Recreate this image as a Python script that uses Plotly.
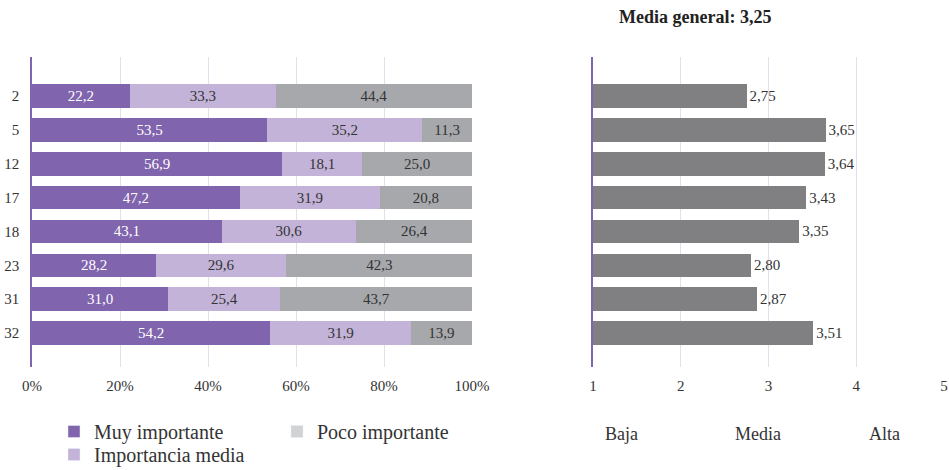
import plotly.graph_objects as go

# Categories (question numbers) and values
preguntas = ["2", "5", "12", "17", "18", "23", "31", "32"]
muy_importante = [22.2, 53.5, 56.9, 47.2, 43.1, 28.2, 31.0, 54.2]
importancia_media = [33.3, 35.2, 18.1, 31.9, 30.6, 29.6, 25.4, 31.9]
poco_importante = [44.4, 11.3, 25.0, 20.8, 26.4, 42.3, 43.7, 13.9]
medias = [2.75, 3.65, 3.64, 3.43, 3.35, 2.80, 2.87, 3.51]
media_general = 3.25

FONT = "Liberation Serif"
C_MUY = "#8064AD"
C_MEDIA = "#C3B3D8"
C_POCO = "#A7A8AB"
C_POCO_LEG = "#D1D2D4"
C_MEAN = "#808083"
GRID = "#E3DFEE"

W, H = 949, 470
MT, MB = 40, 80

def py(y):
    # pixel row -> paper fraction inside margins
    return 1 - (y - MT) / (H - MT - MB)

def fmt(v, d=1):
    return f"{v:.{d}f}".replace(".", ",")

fig = go.Figure()

series = [
    ("Muy importante", muy_importante, C_MUY, "white"),
    ("Importancia media", importancia_media, C_MEDIA, "#333333"),
    ("Poco importante", poco_importante, C_POCO, "#333333"),
]
for name, vals, col, tcol in series:
    fig.add_trace(go.Bar(
        y=preguntas, x=vals, orientation="h", name=name,
        marker=dict(color=col, line=dict(width=0)), width=0.7,
        text=[fmt(v) for v in vals], textposition="inside",
        insidetextanchor="middle",
        textfont=dict(family=FONT, size=15, color=tcol),
        showlegend=False, xaxis="x", yaxis="y", hoverinfo="skip",
    ))

# legend entries (lighter gray swatch for "Poco importante")
fig.add_trace(go.Bar(x=[None], y=[None], orientation="h", name="Muy importante",
                     marker_color=C_MUY, legend="legend", xaxis="x", yaxis="y"))
fig.add_trace(go.Bar(x=[None], y=[None], orientation="h", name="Poco importante",
                     marker_color=C_POCO_LEG, legend="legend", xaxis="x", yaxis="y"))
fig.add_trace(go.Bar(x=[None], y=[None], orientation="h", name="Importancia media",
                     marker_color=C_MEDIA, legend="legend2", xaxis="x", yaxis="y"))

fig.add_trace(go.Bar(
    y=preguntas, x=medias, orientation="h",
    marker=dict(color=C_MEAN, line=dict(width=0)), width=0.7,
    text=[fmt(v, 2) for v in medias], textposition="outside",
    textfont=dict(family=FONT, size=15, color="#333333"),
    cliponaxis=False, showlegend=False, xaxis="x2", yaxis="y2", hoverinfo="skip",
))

yr = [8.0, -1.15]

fig.update_layout(
    width=W, height=H,
    margin=dict(l=0, r=0, t=MT, b=MB, autoexpand=False),
    paper_bgcolor="white", plot_bgcolor="white",
    barmode="stack", bargap=0.3,
    font=dict(family=FONT, size=15, color="#333333"),
    uniformtext=dict(minsize=15, mode="show"),
    xaxis=dict(domain=[32 / W, 472 / W], range=[0, 100], tickvals=[0, 20, 40, 60, 80, 100],
               ticktext=["0%", "20%", "40%", "60%", "80%", "100%"],
               showgrid=True, gridcolor=GRID, gridwidth=1, zeroline=False,
               showline=False, ticks="", ticklabelstandoff=8, automargin=False,
               tickfont=dict(size=15, color="#333333")),
    yaxis=dict(domain=[py(367), py(57)], range=yr, type="category",
               showgrid=False, zeroline=False, showline=True, linecolor=C_MUY, linewidth=1.5,
               ticks="", ticklabelstandoff=8, automargin=False,
               tickfont=dict(size=15, color="#333333"), anchor="x"),
    xaxis2=dict(domain=[593 / W, 944 / W], range=[1, 5], tickvals=[1, 2, 3, 4, 5],
                showgrid=True, gridcolor=GRID, gridwidth=1, zeroline=False,
                showline=False, ticks="", ticklabelstandoff=8, automargin=False,
                anchor="y2", tickfont=dict(size=15, color="#333333")),
    yaxis2=dict(domain=[py(367), py(57)], range=yr, type="category",
                showgrid=False, zeroline=False, showline=True, linecolor=C_MUY, linewidth=1.5,
                showticklabels=False, ticks="", automargin=False, anchor="x2"),
    legend=dict(orientation="h", x=54 / W, y=py(412), xanchor="left", yanchor="top",
                entrywidth=178, itemwidth=30, traceorder="normal",
                font=dict(size=20, color="#333333"),
                bgcolor="rgba(0,0,0,0)", itemclick=False),
    legend2=dict(orientation="h", x=54 / W, y=py(435), xanchor="left", yanchor="top",
                 itemwidth=30, font=dict(size=20, color="#333333"),
                 bgcolor="rgba(0,0,0,0)", itemclick=False),
    annotations=[
        dict(text=f"<b>Media general: {fmt(media_general, 2)}</b>", x=773 / W, y=py(17),
             xref="paper", yref="paper", yanchor="middle", showarrow=False,
             font=dict(size=18, color="#222222")),
        dict(text="Baja", x=640 / W, y=py(434), xref="paper", yref="paper", yanchor="middle",
             showarrow=False, font=dict(size=18)),
        dict(text="Media", x=783 / W, y=py(434), xref="paper", yref="paper", yanchor="middle",
             showarrow=False, font=dict(size=18)),
        dict(text="Alta", x=902 / W, y=py(434), xref="paper", yref="paper", yanchor="middle",
             showarrow=False, font=dict(size=18)),
    ],
)

fig.write_html("out.html", config={"displayModeBar": False},
               post_script="document.body.style.margin='0';")
